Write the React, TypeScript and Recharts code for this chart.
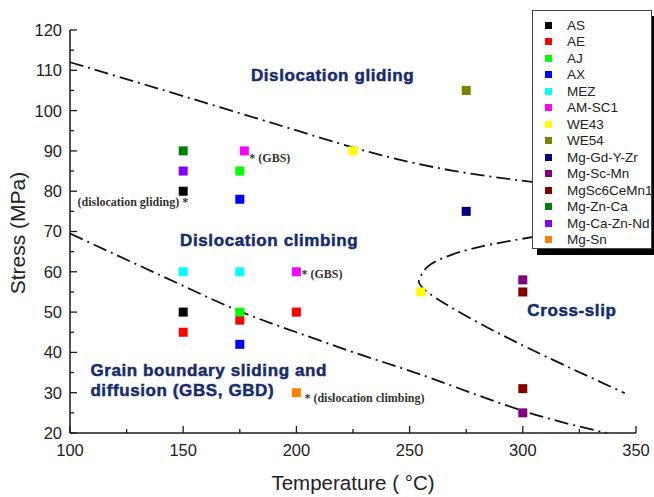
import { ScatterChart, Scatter, XAxis, YAxis, Legend, ReferenceDot } from 'recharts';

// deformation mechanism map: temperature (°C) vs stress (MPa)
const xTicks = [100, 125, 150, 175, 200, 225, 250, 275, 300, 325, 350];
const yTicks = [20, 25, 30, 35, 40, 45, 50, 55, 60, 65, 70, 75, 80, 85, 90, 95, 100, 105, 110, 115, 120];

const AS = [{ t: 150, s: 80 }, { t: 150, s: 50 }];
const AE = [{ t: 150, s: 45 }, { t: 175, s: 48 }, { t: 200, s: 50 }];
const AJ = [{ t: 175, s: 85 }, { t: 175, s: 50 }];
const AX = [{ t: 175, s: 78 }, { t: 175, s: 42 }];
const MEZ = [{ t: 150, s: 60 }, { t: 175, s: 60 }];
const AMSC1 = [{ t: 177, s: 90 }, { t: 200, s: 60 }];
const WE43 = [{ t: 225, s: 90 }, { t: 255, s: 55 }];
const WE54 = [{ t: 275, s: 105 }];
const MgGdYZr = [{ t: 275, s: 75 }];
const MgScMn = [{ t: 300, s: 58 }, { t: 300, s: 25 }];
const MgSc6CeMn1 = [{ t: 300, s: 55 }, { t: 300, s: 31 }];
const MgZnCa = [{ t: 150, s: 90 }];
const MgCaZnNd = [{ t: 150, s: 85 }];
const MgSn = [{ t: 200, s: 30 }];

const seriesNames = ['AS', 'AE', 'AJ', 'AX', 'MEZ', 'AM-SC1', 'WE43', 'WE54', 'Mg-Gd-Y-Zr', 'Mg-Sc-Mn', 'MgSc6CeMn1', 'Mg-Zn-Ca', 'Mg-Ca-Zn-Nd', 'Mg-Sn'];
const seriesData = [AS, AE, AJ, AX, MEZ, AMSC1, WE43, WE54, MgGdYZr, MgScMn, MgSc6CeMn1, MgZnCa, MgCaZnNd, MgSn];
const seriesColors = ['#000000', '#ff0000', '#00ff00', '#0000ff', '#00ffff', '#ff00ff', '#ffff00', '#808000', '#000080', '#800080', '#800000', '#008000', '#8000ff', '#ff8000'];

// mechanism boundaries
const upperBoundary = [{ t: 100, s: 112 }, { t: 150, s: 103.6 }, { t: 204, s: 94.4 }, { t: 237, s: 89 }, { t: 270, s: 85 }, { t: 303, s: 82.4 }, { t: 320, s: 81.5 }];
const lowerBoundary = [{ t: 100, s: 69.5 }, { t: 125, s: 63 }, { t: 150, s: 56.5 }, { t: 175, s: 50.2 }, { t: 200, s: 45 }, { t: 228, s: 39.5 }, { t: 260, s: 33.5 }, { t: 300, s: 25.5 }, { t: 337, s: 20 }];
const crossSlipBoundary = [{ t: 306, s: 68.8 }, { t: 281, s: 66.2 }, { t: 266, s: 63.7 }, { t: 258, s: 61.3 }, { t: 254.6, s: 58.6 }, { t: 257.6, s: 55.1 }, { t: 281, s: 47.2 }, { t: 310.5, s: 38.9 }, { t: 345, s: 29.9 }];

const pointNotes = [
  { t: 177, s: 90, text: '* (GBS)' },
  { t: 150, s: 80, text: '(dislocation gliding) *' },
  { t: 200, s: 60, text: '* (GBS)' },
  { t: 200, s: 30, text: '* (dislocation climbing)' },
];
const noteOffsets = [
  { dx: 5, dy: 11, anchor: 'start' },
  { dx: 5, dy: 15, anchor: 'end' },
  { dx: 5, dy: 6, anchor: 'start' },
  { dx: 8, dy: 9, anchor: 'start' },
];

const regionLabels = [
  { t: 216, s: 108.7, text: 'Dislocation gliding', anchor: 'middle' },
  { t: 188, s: 68, text: 'Dislocation climbing', anchor: 'middle' },
  { t: 302, s: 50.5, text: 'Cross-slip', anchor: 'start' },
];
const gbsLines = ['Grain boundary sliding and', 'diffusion (GBS, GBD)'];

const AXIS = '#1a1a1a';
const REGION = '#162c6e';
const SANS = '"Liberation Sans", Arial, sans-serif';
const SERIF = '"Liberation Serif", "Times New Roman", serif';

const XTick = (p: any) => {
  const v = p.payload.value;
  const major = v % 50 === 0;
  return (
    <g>
      <line x1={p.x} x2={p.x} y1={p.y} y2={p.y - (major ? 7 : 4)} stroke={AXIS} strokeWidth={1.3} />
      {major && (
        <text x={p.x} y={p.y + 23} textAnchor="middle" fontSize={16.5} fontFamily={SANS} fill="#222">{v}</text>
      )}
    </g>
  );
};

const YTick = (p: any) => {
  const v = p.payload.value;
  const major = v % 10 === 0;
  return (
    <g>
      <line x1={p.x} x2={p.x + (major ? 7 : 4)} y1={p.y} y2={p.y} stroke={AXIS} strokeWidth={1.3} />
      {major && (
        <text x={p.x - 8} y={p.y} dy="0.36em" textAnchor="end" fontSize={16.5} fontFamily={SANS} fill="#222">{v}</text>
      )}
    </g>
  );
};

const square = (p: any) => <rect x={p.cx - 4.5} y={p.cy - 4.5} width={9} height={9} fill={p.fill} />;
const noShape = () => <g />;

const dashDot = { stroke: '#111', strokeWidth: 1.8, strokeDasharray: '14 5 2 5' };

const regionText = { fontSize: 17, fontWeight: 700, fontFamily: SANS, fill: REGION, stroke: REGION, strokeWidth: 0.5, letterSpacing: 0.6 };

const LegendBox = () => (
  <div style={{ position: 'relative', width: 120, height: 239, fontFamily: SANS }}>
    <div style={{ position: 'absolute', left: 5, top: 6, width: 120, height: 239, background: '#000' }} />
    <div style={{ position: 'absolute', left: 0, top: 0, width: 118, height: 237, background: '#fff', border: '1px solid #444', overflow: 'hidden' }}>
      {seriesNames.map((n, i) => (
        <div key={n} style={{ position: 'absolute', left: 0, top: 6 + i * 16.5, height: 16, display: 'flex', alignItems: 'center', whiteSpace: 'nowrap' }}>
          <span style={{ display: 'inline-block', width: 7, height: 7, marginLeft: 12, background: seriesColors[i] }} />
          <span style={{ marginLeft: 15, fontSize: 13.5, color: '#222' }}>{n}</span>
        </div>
      ))}
    </div>
  </div>
);

export default function App() {
  return (
    <div style={{ position: 'absolute', left: 0, top: 0 }}>
      <ScatterChart width={654} height={497} margin={{ top: 30, right: 18, left: 0, bottom: 0 }} style={{ background: '#fff' }}>
        <XAxis
          type="number"
          dataKey="t"
          domain={[100, 350]}
          ticks={xTicks}
          interval={0}
          height={64}
          tickLine={false}
          tickSize={0}
          tickMargin={0}
          tick={<XTick />}
          axisLine={{ stroke: AXIS, strokeWidth: 1.5 }}
          label={{
            content: (p: any) => (
              <text x={p.viewBox.x + p.viewBox.width / 2} y={p.viewBox.y + 56.5} textAnchor="middle" fontSize={20.5} fontFamily={SANS} fill="#222">
                Temperature ( °C)
              </text>
            ),
          }}
        />
        <YAxis
          type="number"
          dataKey="s"
          domain={[20, 120]}
          ticks={yTicks}
          interval={0}
          width={70}
          tickLine={false}
          tickSize={0}
          tickMargin={0}
          tick={<YTick />}
          axisLine={{ stroke: AXIS, strokeWidth: 1.5 }}
          label={{
            content: () => {
              const cx = 25;
              const cy = 233;
              return (
                <text x={cx} y={cy} transform={`rotate(-90, ${cx}, ${cy})`} textAnchor="middle" fontSize={21} fontFamily={SANS} fill="#222">
                  Stress (MPa)
                </text>
              );
            },
          }}
        />
        <XAxis xAxisId="top" orientation="top" type="number" domain={[100, 350]} height={0} tick={false} tickLine={false} axisLine={{ stroke: AXIS, strokeWidth: 1.5 }} />
        <YAxis yAxisId="right" orientation="right" type="number" domain={[20, 120]} width={0} tick={false} tickLine={false} axisLine={{ stroke: AXIS, strokeWidth: 1.5 }} />

        <Scatter data={upperBoundary} line={dashDot} lineType="joint" lineJointType="natural" shape={noShape} legendType="none" isAnimationActive={false} />
        <Scatter data={lowerBoundary} line={dashDot} lineType="joint" lineJointType="natural" shape={noShape} legendType="none" isAnimationActive={false} />
        <Scatter data={crossSlipBoundary} line={dashDot} lineType="joint" lineJointType="natural" shape={noShape} legendType="none" isAnimationActive={false} />

        {seriesData.map((d, i) => (
          <Scatter key={seriesNames[i]} name={seriesNames[i]} data={d} fill={seriesColors[i]} shape={square} isAnimationActive={false} />
        ))}

        {pointNotes.map((n, i) => (
          <ReferenceDot
            key={`note-${i}`}
            x={n.t}
            y={n.s}
            r={0}
            stroke="none"
            label={{
              content: (p: any) => (
                <text x={p.viewBox.x + noteOffsets[i].dx} y={p.viewBox.y + noteOffsets[i].dy} textAnchor={noteOffsets[i].anchor as any} fontSize={12} fontWeight={700} fontFamily={SERIF} fill="#333">
                  {n.text}
                </text>
              ),
            }}
          />
        ))}

        {regionLabels.map((r) => (
          <ReferenceDot
            key={r.text}
            x={r.t}
            y={r.s}
            r={0}
            stroke="none"
            label={{
              content: (p: any) => (
                <text x={p.viewBox.x} y={p.viewBox.y} dy="0.35em" textAnchor={r.anchor as any} {...regionText}>
                  {r.text}
                </text>
              ),
            }}
          />
        ))}

        <ReferenceDot
          x={109}
          y={35.6}
          r={0}
          stroke="none"
          label={{
            content: (p: any) => (
              <text x={p.viewBox.x} y={p.viewBox.y} {...regionText}>
                {gbsLines.map((l, i) => (
                  <tspan key={l} x={p.viewBox.x} dy={i === 0 ? '0.35em' : 19.5}>{l}</tspan>
                ))}
              </text>
            ),
          }}
        />

        <Legend
          layout="vertical"
          align="center"
          verticalAlign="middle"
          wrapperStyle={{ position: 'absolute', left: 532, top: 10, width: 125, height: 246 }}
          content={() => <LegendBox />}
        />
      </ScatterChart>
    </div>
  );
}
